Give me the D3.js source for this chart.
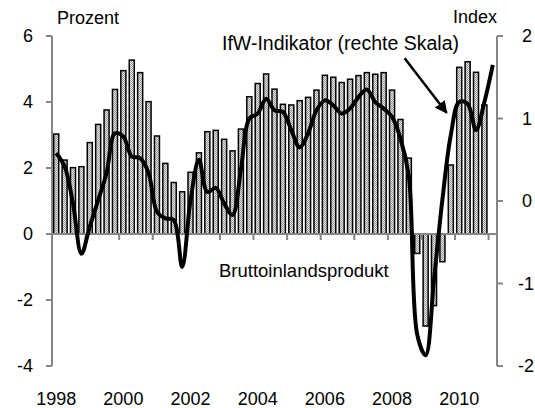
<!DOCTYPE html>
<html>
<head>
<meta charset="utf-8">
<script src="https://cdn.jsdelivr.net/npm/d3@7"></script>
<style>
  body { margin: 0; background: #fff; }
  text { font-family: "Liberation Sans", Arial, sans-serif; fill: #000; }
</style>
</head>
<body>
<svg id="chart"></svg>
<script>
// Quarterly data, 1998 Q1 .. 2011 Q1
const years = [1998, 1999, 2000, 2001, 2002, 2003, 2004, 2005, 2006, 2007, 2008, 2009, 2010, 2011];
const quarters = years.flatMap(y => [1, 2, 3, 4].map(q => `${y}Q${q}`)).slice(0, 53);

// Bruttoinlandsprodukt, Prozent (left scale), 1998Q1..2010Q4
const bip = [
  3.03, 2.24, 2.01, 2.04,
  2.77, 3.32, 3.76, 4.38,
  4.95, 5.27, 4.89, 4.01,
  2.97, 2.14, 1.56, 1.28,
  1.87, 2.46, 3.10, 3.14,
  2.87, 2.52, 3.18, 4.16,
  4.56, 4.85, 4.39, 3.93,
  3.91, 4.04, 4.14, 4.36,
  4.81, 4.75, 4.59, 4.69,
  4.80, 4.89, 4.84, 4.89,
  4.36, 3.47, 2.30, -0.59,
  -2.79, -2.17, -0.84, 2.09,
  5.05, 5.22, 4.90, 3.91
];

// IfW-Indikator, Index (right scale), 1998Q1..2011Q1
const ifw = [
  0.58, 0.42, -0.03, -0.64,
  -0.31, 0.01, 0.34, 0.82,
  0.78, 0.54, 0.52, 0.34,
  -0.13, -0.21, -0.23, -0.80,
  0.01, 0.50, 0.11, 0.16,
  -0.03, -0.17, 0.38, 1.00,
  1.06, 1.24, 1.10, 1.08,
  0.86, 0.65, 0.82, 1.10,
  1.22, 1.16, 1.06, 1.12,
  1.26, 1.35, 1.20, 1.12,
  1.02, 0.76, 0.30, -1.62,
  -1.87, -0.95, 0.02, 0.80,
  1.20, 1.18, 0.86, 1.20,
  1.65
];

const leftTicks = [-4, -2, 0, 2, 4, 6];
const rightTicks = [-2, -1, 0, 1, 2];
const yearLabels = ["1998", "2000", "2002", "2004", "2006", "2008", "2010"];

const W = 535, H = 408;
const plot = { left: 52, right: 497, top: 36, bottom: 366 };
const axisGrey = "#868686";

const svg = d3.select("#chart").attr("width", W).attr("height", H);

const x = d3.scaleBand()
  .domain(quarters)
  .range([plot.left, plot.right])
  .paddingInner(0.4)
  .paddingOuter(0.2);

const yL = d3.scaleLinear().domain([-4, 6]).range([plot.bottom, plot.top]);
const yR = d3.scaleLinear().domain([-2, 2]).range([plot.bottom, plot.top]);

// bar pattern (dotted grey)
const defs = svg.append("defs");
const pat = defs.append("pattern")
  .attr("id", "dots")
  .attr("width", 2).attr("height", 2)
  .attr("patternUnits", "userSpaceOnUse");
pat.append("rect").attr("width", 2).attr("height", 2).attr("fill", "#e4e4e4");
pat.append("rect").attr("width", 1).attr("height", 1).attr("fill", "#9a9a9a");
pat.append("rect").attr("x", 1).attr("y", 1).attr("width", 1).attr("height", 1).attr("fill", "#9a9a9a");

defs.append("marker")
  .attr("id", "arrow")
  .attr("viewBox", "0 0 10 10")
  .attr("refX", 9).attr("refY", 5)
  .attr("markerWidth", 5).attr("markerHeight", 5)
  .attr("orient", "auto")
  .append("path")
  .attr("d", "M0,0 L10,5 L0,10 z")
  .attr("fill", "#000");

// bars
svg.append("g")
  .selectAll("rect")
  .data(bip)
  .join("rect")
  .attr("x", (d, i) => x(quarters[i]))
  .attr("width", x.bandwidth())
  .attr("y", d => yL(Math.max(0, d)))
  .attr("height", d => Math.abs(yL(d) - yL(0)))
  .attr("fill", "url(#dots)")
  .attr("stroke", "#000")
  .attr("stroke-width", 1.5);

// left axis
const gl = svg.append("g").attr("transform", `translate(${plot.left},0)`);
gl.append("line").attr("y1", plot.top).attr("y2", plot.bottom)
  .attr("stroke", axisGrey).attr("stroke-width", 2);
gl.selectAll("line.tick").data(leftTicks).join("line").attr("class", "tick")
  .attr("x1", -6).attr("x2", 0)
  .attr("y1", d => yL(d)).attr("y2", d => yL(d))
  .attr("stroke", axisGrey).attr("stroke-width", 2);
gl.selectAll("text").data(leftTicks).join("text")
  .attr("x", -19).attr("y", d => yL(d)).attr("dy", "0.35em")
  .attr("text-anchor", "end").attr("font-size", 18)
  .text(d => d);

// right axis
const gr = svg.append("g").attr("transform", `translate(${plot.right},0)`);
gr.append("line").attr("y1", plot.top).attr("y2", plot.bottom)
  .attr("stroke", axisGrey).attr("stroke-width", 2);
gr.selectAll("line.tick").data(rightTicks).join("line").attr("class", "tick")
  .attr("x1", 0).attr("x2", 6)
  .attr("y1", d => yR(d)).attr("y2", d => yR(d))
  .attr("stroke", axisGrey).attr("stroke-width", 2);
gr.selectAll("text").data(rightTicks).join("text")
  .attr("x", d => d < 0 ? 21 : 25).attr("y", d => yR(d)).attr("dy", "0.35em")
  .attr("text-anchor", "start").attr("font-size", 18)
  .text(d => d);

// category axis at zero
const step = x.step();
const gx = svg.append("g");
gx.append("line")
  .attr("x1", plot.left).attr("x2", plot.right)
  .attr("y1", yL(0)).attr("y2", yL(0))
  .attr("stroke", axisGrey).attr("stroke-width", 2);
gx.selectAll("line.tick")
  .data(d3.range(4, quarters.length, 4))
  .join("line").attr("class", "tick")
  .attr("x1", i => plot.left + i * step).attr("x2", i => plot.left + i * step)
  .attr("y1", yL(0)).attr("y2", yL(0) + 6)
  .attr("stroke", axisGrey).attr("stroke-width", 2);
gx.selectAll("text")
  .data(yearLabels)
  .join("text")
  .attr("x", d => x(`${d}Q1`) + x.bandwidth() / 2)
  .attr("y", 405)
  .attr("text-anchor", "middle").attr("font-size", 18)
  .text(d => d);

// IfW line
const line = d3.line()
  .x((d, i) => x(quarters[i]) + x.bandwidth() / 2)
  .y(d => yR(d))
  .curve(d3.curveCatmullRom.alpha(0.5));

svg.append("path")
  .datum(ifw)
  .attr("d", line)
  .attr("fill", "none")
  .attr("stroke", "#000")
  .attr("stroke-width", 4)
  .attr("stroke-linejoin", "round");

// labels
svg.append("text").attr("x", 57).attr("y", 24).attr("font-size", 18).text("Prozent");
svg.append("text").attr("x", plot.right).attr("y", 23).attr("text-anchor", "end")
  .attr("font-size", 18).text("Index");
svg.append("text").attr("x", 222).attr("y", 50)
  .attr("font-size", 19.5).text("IfW-Indikator (rechte Skala)");
svg.append("text").attr("x", 219).attr("y", 277).attr("font-size", 18.5)
  .text("Bruttoinlandsprodukt");

// arrow pointing to the indicator
svg.append("line")
  .attr("x1", plot.left + 42 * step).attr("y1", yR(1.73))
  .attr("x2", plot.left + 47 * step).attr("y2", yR(1.07))
  .attr("stroke", "#000").attr("stroke-width", 2.5)
  .attr("marker-end", "url(#arrow)");
</script>
</body>
</html>
